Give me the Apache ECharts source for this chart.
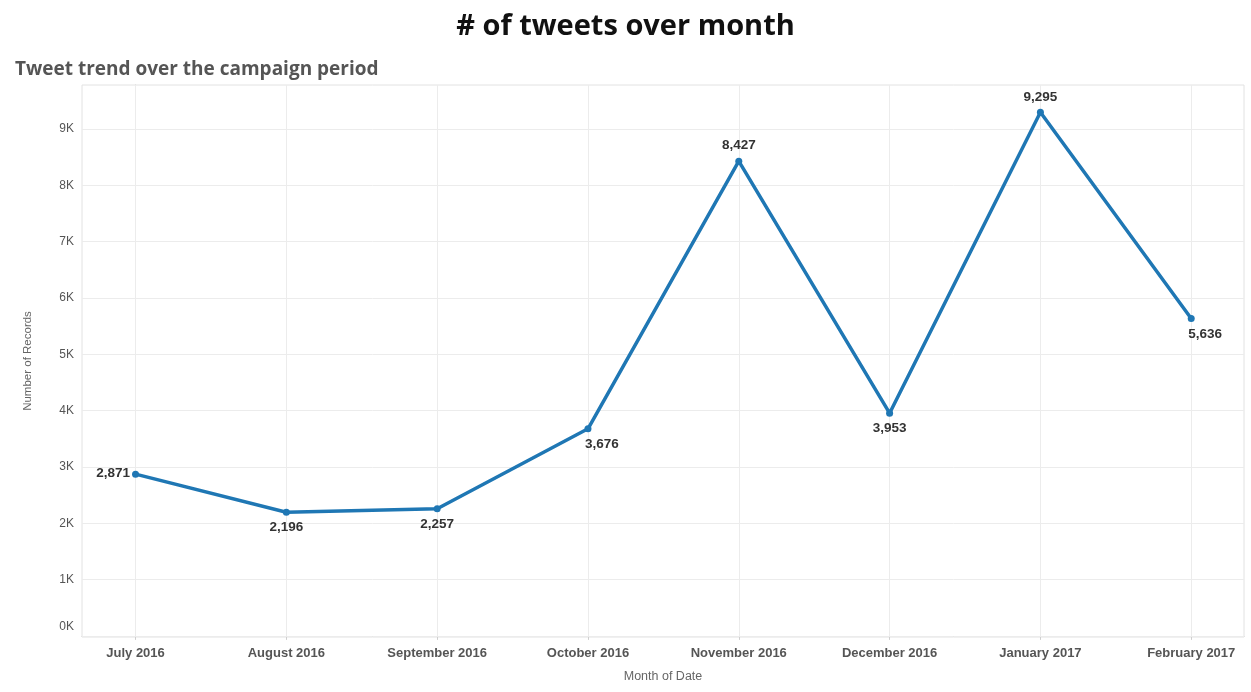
<!DOCTYPE html>
<html>
<head>
<meta charset="utf-8">
<script src="https://cdn.jsdelivr.net/npm/echarts@6/dist/echarts.min.js"></script>
<style>
html,body{margin:0;padding:0;background:#fff;}
#c{width:1251px;height:692px;}
</style>
</head>
<body>
<div id="c"></div>
<script>
const months = ['July 2016','August 2016','September 2016','October 2016','November 2016','December 2016','January 2017','February 2017'];
const records = [2871, 2196, 2257, 3676, 8427, 3953, 9295, 5636];
const yTicks = [0, 1000, 2000, 3000, 4000, 5000, 6000, 7000, 8000, 9000];
const xIdx = months.map((m, i) => i);

const labelPlacement = ['left','bottom','bottom','bottomRight','top','bottom','top','bottomRight'];

function labelFor(p) {
  const base = {show: true, fontFamily: 'Arial, "Liberation Sans", sans-serif', fontSize: 13.5, fontWeight: 'bold', color: '#333'};
  if (p === 'left') return Object.assign(base, {position: 'left', distance: 2, offset: [0, -1]});
  if (p === 'bottom') return Object.assign(base, {position: 'bottom', distance: 5});
  if (p === 'top') return Object.assign(base, {position: 'top', distance: 5});
  if (p === 'bottomRight') return Object.assign(base, {position: 'bottom', distance: 5, align: 'left', offset: [-3, 0]});
  return base;
}

const chart = echarts.init(document.getElementById('c'), null, {renderer: 'canvas'});
const fmt = v => v.toLocaleString('en-US');

chart.setOption({
  animation: false,
  backgroundColor: '#fff',
  title: [
    {text: '# of tweets over month', left: 'center', top: 7,
     textStyle: {fontFamily: '"Open Sans", "Noto Sans", sans-serif', fontSize: 29, fontWeight: 'bold', color: '#111'}},
    {text: 'Tweet trend over the campaign period', left: 10, top: 55,
     textStyle: {fontFamily: '"Open Sans", "Noto Sans", sans-serif', fontSize: 19, fontWeight: 'bold', color: '#555'}}
  ],
  grid: {left: 82, right: 7, top: 85, bottom: 55, show: true, borderColor: '#e2e2e2', borderWidth: 1},
  xAxis: {
    type: 'value', min: -0.355, max: 7.35,
    name: 'Month of Date', nameLocation: 'middle', nameGap: 33,
    nameTextStyle: {fontFamily: 'Arial, "Liberation Sans", sans-serif', fontSize: 12.5, color: '#666'},
    axisLine: {show: true, lineStyle: {color: '#cfcfcf'}},
    axisTick: {show: true, length: 4, customValues: xIdx, lineStyle: {color: '#cfcfcf'}},
    axisLabel: {customValues: xIdx, formatter: v => months[Math.round(v)], margin: 10,
      fontFamily: 'Arial, "Liberation Sans", sans-serif', fontSize: 13, fontWeight: 'bold', color: '#555'},
    splitLine: {show: false}
  },
  yAxis: {
    type: 'value', min: -20, max: 9780,
    name: 'Number of Records', nameLocation: 'middle', nameGap: 48, nameRotate: 90,
    nameTextStyle: {fontFamily: 'Arial, "Liberation Sans", sans-serif', fontSize: 11.5, color: '#666'},
    axisLine: {show: true, lineStyle: {color: '#cfcfcf'}},
    axisTick: {show: true, length: 4, customValues: yTicks, lineStyle: {color: '#cfcfcf'}},
    axisLabel: {customValues: yTicks,
      formatter: v => v === 0 ? '{z|0K}' : (v / 1000) + 'K',
      rich: {z: {fontFamily: 'Arial, "Liberation Sans", sans-serif', fontSize: 12, color: '#555', padding: [0, 0, 18, 0]}},
      margin: 8,
      fontFamily: 'Arial, "Liberation Sans", sans-serif', fontSize: 12, color: '#555'},
    splitLine: {show: false}
  },
  series: [{
    type: 'line',
    data: records.map((v, i) => ({value: [i, v], label: labelFor(labelPlacement[i])})),
    symbol: 'circle', symbolSize: 7,
    itemStyle: {color: '#1f77b4'},
    lineStyle: {color: '#1f77b4', width: 3.5},
    label: {show: true, formatter: p => fmt(p.value[1])},
    z: 5,
    markLine: {
      silent: true, symbol: 'none', animation: false,
      label: {show: false},
      lineStyle: {color: '#ececec', width: 1, type: 'solid'},
      data: yTicks.map(v => ({yAxis: v})).concat(xIdx.map(i => ({xAxis: i})))
    }
  }]
});
</script>
</body>
</html>
